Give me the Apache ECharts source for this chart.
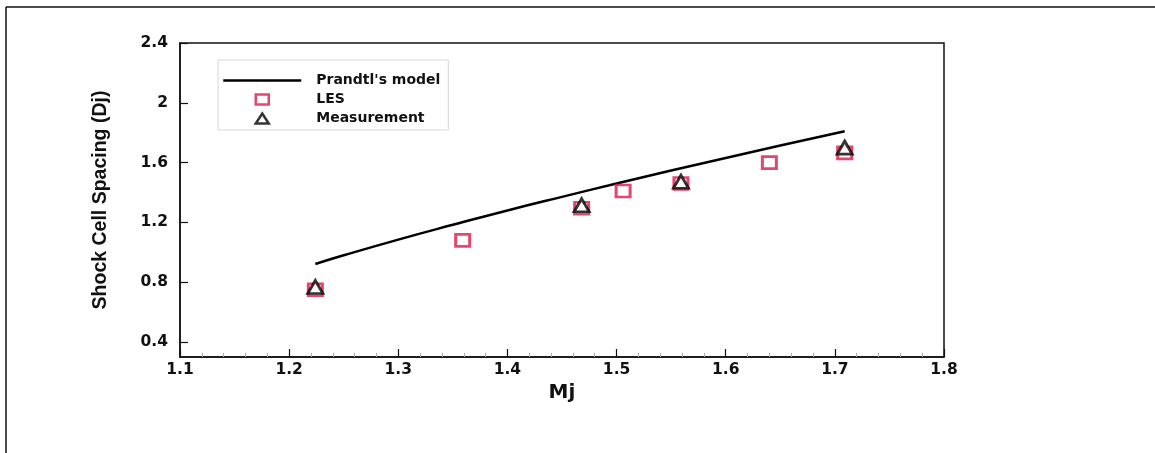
<!DOCTYPE html>
<html>
<head>
<meta charset="utf-8">
<script src="https://cdn.jsdelivr.net/npm/echarts@6/dist/echarts.min.js"></script>
<style>
html,body{margin:0;padding:0;background:#fff;}
#chart{width:1155px;height:453px;}
</style>
</head>
<body>
<div id="chart"></div>
<script>
// Prandtl's model curve
const prandtlM = [1.224, 1.25, 1.3, 1.35, 1.4, 1.45, 1.5, 1.55, 1.6, 1.65, 1.709];
const prandtlS = [0.922, 0.980, 1.085, 1.184, 1.280, 1.371, 1.460, 1.547, 1.631, 1.714, 1.810];
// LES points
const lesM = [1.224, 1.359, 1.468, 1.506, 1.559, 1.640, 1.709];
const lesS = [0.75, 1.08, 1.295, 1.41, 1.46, 1.60, 1.665];
// Measurement points
const measM = [1.224, 1.468, 1.559, 1.709];
const measS = [0.768, 1.315, 1.472, 1.70];
// Tick labels
const xTicks = [1.1, 1.2, 1.3, 1.4, 1.5, 1.6, 1.7, 1.8];
const yTicks = [0.4, 0.8, 1.2, 1.6, 2, 2.4];

const seriesNames = ["Prandtl's model", 'LES', 'Measurement'];
const lesColor = '#e0164a';
const zip = (a, b) => a.map((v, i) => [v, b[i]]);

const chart = echarts.init(document.getElementById('chart'), null, {renderer: 'canvas'});
const tickFont = {fontFamily: 'DejaVu Sans', fontWeight: 'bold', fontSize: 15.5, color: '#111'};

chart.setOption({
  animation: false,
  backgroundColor: '#fff',
  graphic: [
    {type: 'line', shape: {x1: 6, y1: 7, x2: 1155, y2: 7}, style: {stroke: '#111', lineWidth: 1.5}},
    {type: 'line', shape: {x1: 6, y1: 7, x2: 6, y2: 453}, style: {stroke: '#111', lineWidth: 1.5}}
  ],
  grid: {left: 180, top: 43, right: 211, bottom: 96, show: true, borderColor: '#111', borderWidth: 1.5, backgroundColor: 'transparent'},
  legend: {
    left: 218, top: 60, orient: 'vertical',
    backgroundColor: '#fff', borderColor: '#d8d8d8', borderWidth: 1,
    padding: [12, 8, 3, 4],
    itemWidth: 78, itemHeight: 10, itemGap: 2,
    symbolKeepAspect: true,
    textStyle: {fontFamily: 'DejaVu Sans', fontWeight: 'bold', fontSize: 14, color: '#111', lineHeight: 17, padding: [0, 0, 0, 10]},
    data: [
      {name: seriesNames[0], lineStyle: {color: '#000', width: 2.5}, itemStyle: {color: 'transparent', borderColor: 'transparent', borderWidth: 0}},
      {name: seriesNames[1], icon: 'path://M0,0L13,0L13,10L0,10Z', itemStyle: {color: '#fff', borderColor: lesColor, borderWidth: 2.5}},
      {name: seriesNames[2], icon: 'path://M6.5,0L13,10L0,10Z', itemStyle: {color: '#fff', borderColor: '#000', borderWidth: 2.5}}
    ]
  },
  xAxis: {
    type: 'value', min: 1.1, max: 1.8, interval: 0.1,
    name: 'Mj', nameLocation: 'middle', nameGap: 20,
    nameTextStyle: {fontFamily: 'DejaVu Sans', fontWeight: 'bold', fontSize: 20, color: '#111'},
    axisLine: {show: true, lineStyle: {color: '#111', width: 1.5}},
    axisTick: {show: true, inside: true, length: 8, lineStyle: {color: '#111', width: 1.2}, customValues: xTicks},
    minorTick: {show: true, splitNumber: 5, length: 4, lineStyle: {color: '#aaa', width: 1}},
    axisLabel: Object.assign({margin: 5, customValues: xTicks}, tickFont),
    splitLine: {show: false}
  },
  yAxis: {
    type: 'value', min: 0.3, max: 2.4,
    name: 'Shock Cell Spacing (Dj)', nameLocation: 'middle', nameGap: 69,
    nameTextStyle: {fontFamily: 'Liberation Sans', fontWeight: 'bold', fontSize: 19.5, color: '#111'},
    axisLine: {show: true, lineStyle: {color: '#111', width: 1.5}},
    axisTick: {show: true, inside: true, length: 8, lineStyle: {color: '#111', width: 1.2}, customValues: yTicks},
    axisLabel: Object.assign({margin: 12, customValues: yTicks}, tickFont),
    splitLine: {show: false}
  },
  series: [
    {
      name: seriesNames[0], type: 'line', data: zip(prandtlM, prandtlS),
      symbol: 'none', smooth: true, lineStyle: {color: '#000', width: 2.5}, itemStyle: {color: '#000'}, z: 2
    },
    {
      name: seriesNames[1], type: 'scatter', data: zip(lesM, lesS),
      symbol: 'rect', symbolSize: [14, 12],
      itemStyle: {color: '#fff', borderColor: lesColor, borderWidth: 2.8}, z: 3
    },
    {
      name: seriesNames[2], type: 'scatter', data: zip(measM, measS),
      symbol: 'triangle', symbolSize: [15, 13],
      itemStyle: {color: '#fff', borderColor: '#000', borderWidth: 2.8}, z: 4
    }
  ]
});
</script>
</body>
</html>
